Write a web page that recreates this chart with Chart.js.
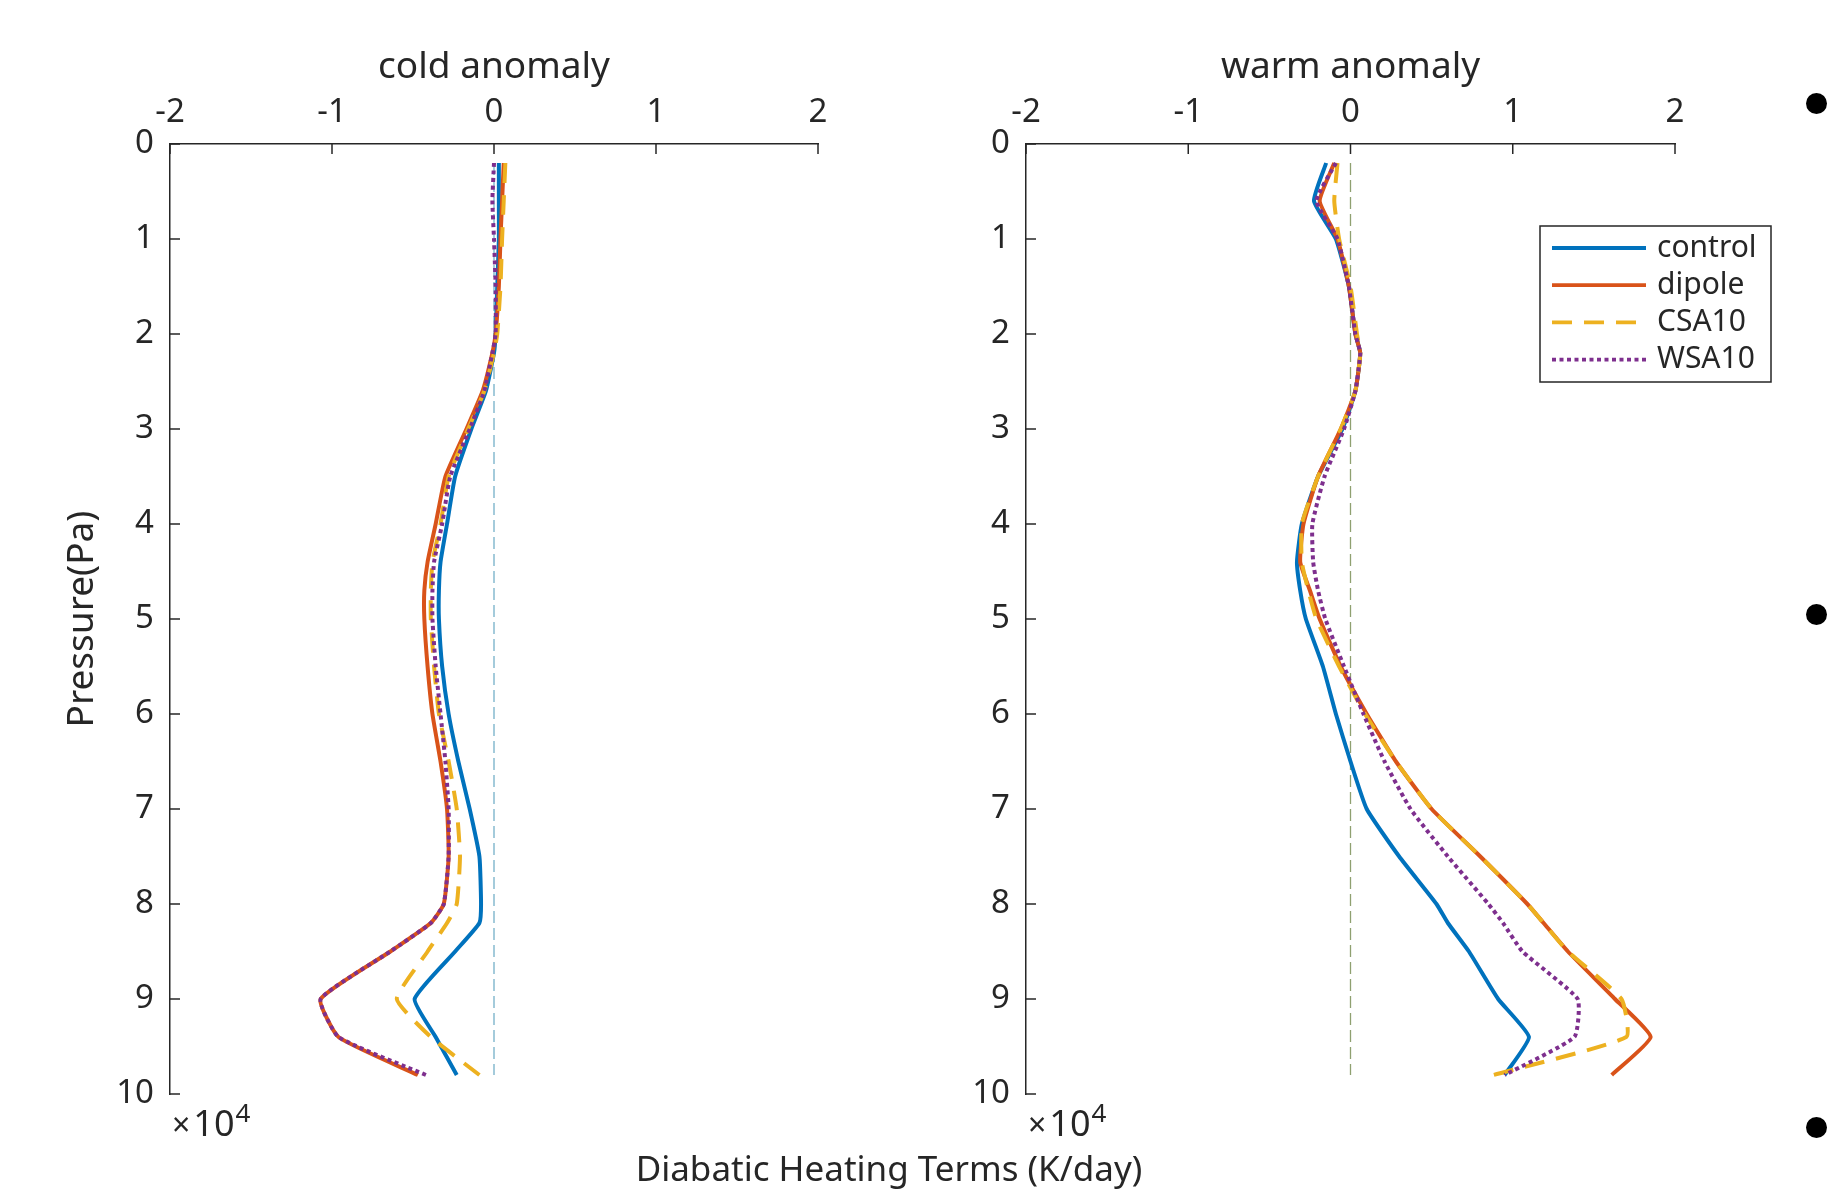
<!DOCTYPE html>
<html>
<head>
<meta charset="utf-8">
<script src="https://cdn.jsdelivr.net/npm/chart.js@4.4.0/dist/chart.umd.min.js"></script>
<style>
  body { margin: 0; background: #fff; width: 1837px; height: 1190px; overflow: hidden; position: relative; font-family: "Noto Sans", sans-serif; }
  .pane { position: absolute; top: 0; }
  #coldPane { left: 0; }
  #warmPane { left: 900px; }
  #xlabel { position: absolute; left: 489px; width: 800px; top: 1146px; text-align: center; font-size: 35px; line-height: 44px; color: #262626; }
  .dot { position: absolute; width: 21px; height: 21px; border-radius: 50%; background: #000; }
</style>
</head>
<body>
<div class="pane" id="coldPane"><canvas id="cold" width="900" height="1190"></canvas></div>
<div class="pane" id="warmPane"><canvas id="warm" width="937" height="1190"></canvas></div>
<div id="xlabel">Diabatic Heating Terms (K/day)</div>
<div class="dot" style="left:1806px; top:93px"></div>
<div class="dot" style="left:1806px; top:604px"></div>
<div class="dot" style="left:1806px; top:1117px"></div>
<script>
// pressure levels (Pa)
const pressure = [2000, 6000, 10000, 15000, 20000, 22000, 26000, 30000, 35000, 40000, 44000, 47000,
                  50000, 55000, 60000, 65000, 70000, 75000, 80000, 82000, 85000, 90000, 94000, 98000];
const seriesNames = ['control', 'dipole', 'CSA10', 'WSA10'];

// cold anomaly (K/day)
const coldControl = [0.03, 0.03, 0.03, 0.02, 0.01, 0.0, -0.05, -0.14, -0.24, -0.29, -0.33, -0.34,
                     -0.34, -0.32, -0.28, -0.22, -0.15, -0.09, -0.08, -0.09, -0.24, -0.49, -0.36, -0.23];
const coldDipole  = [0.06, 0.05, 0.04, 0.03, 0.01, -0.01, -0.07, -0.17, -0.30, -0.36, -0.41, -0.43,
                     -0.43, -0.41, -0.38, -0.33, -0.29, -0.28, -0.31, -0.39, -0.64, -1.07, -0.96, -0.47];
const coldCSA10   = [0.07, 0.06, 0.05, 0.04, 0.02, 0.0, -0.06, -0.16, -0.28, -0.33, -0.38, -0.39,
                     -0.39, -0.37, -0.34, -0.28, -0.23, -0.21, -0.23, -0.29, -0.41, -0.60, -0.39, -0.09];
const coldWSA10   = [0.0, -0.01, 0.0, 0.01, 0.01, -0.01, -0.06, -0.15, -0.27, -0.32, -0.37, -0.38,
                     -0.38, -0.36, -0.33, -0.30, -0.28, -0.28, -0.31, -0.39, -0.64, -1.07, -0.96, -0.42];

// warm anomaly (K/day)
const warmControl = [-0.15, -0.225, -0.09, -0.01, 0.03, 0.06, 0.03, -0.05, -0.20, -0.30, -0.33, -0.31,
                     -0.275, -0.17, -0.09, 0.0, 0.10, 0.30, 0.53, 0.60, 0.73, 0.91, 1.10, 0.95];
const warmDipole  = [-0.10, -0.19, -0.08, -0.01, 0.03, 0.06, 0.03, -0.06, -0.20, -0.29, -0.31, -0.25,
                     -0.19, -0.06, 0.10, 0.28, 0.50, 0.80, 1.09, 1.19, 1.34, 1.63, 1.85, 1.61];
const warmCSA10   = [-0.08, -0.10, -0.07, 0.0, 0.04, 0.06, 0.03, -0.06, -0.20, -0.30, -0.30, -0.26,
                     -0.21, -0.07, 0.09, 0.28, 0.50, 0.80, 1.09, 1.19, 1.34, 1.67, 1.70, 0.88];
const warmWSA10   = [-0.09, -0.21, -0.08, -0.01, 0.03, 0.06, 0.03, -0.04, -0.16, -0.235, -0.23, -0.20,
                     -0.155, -0.04, 0.08, 0.21, 0.37, 0.60, 0.85, 0.94, 1.06, 1.40, 1.38, 0.95];

// zero reference line
const zeroLineX = [0, 0];
const zeroLineP = [2000, 98000];

const xTicks = [-2, -1, 0, 1, 2];

const colors = ['#0072BD', '#D95319', '#EDB120', '#7E2F8E'];
const dashes = [[], [], [20, 12], [4, 3.5]];
const axisColor = '#262626';
const FONT = '"Noto Sans", sans-serif';

function toPoints(xs, ps) {
  return xs.map((v, i) => ({ x: v, y: ps[i] }));
}

const axisDecor = {
  id: 'axisDecor',
  afterDraw(chart, args, opts) {
    const { ctx, chartArea: a, scales: { x, y } } = chart;
    ctx.save();
    ctx.strokeStyle = axisColor;
    ctx.lineWidth = 1.5;
    x.ticks.forEach(t => {
      const px = x.getPixelForValue(t.value);
      ctx.beginPath(); ctx.moveTo(px, a.top); ctx.lineTo(px, a.top + 10); ctx.stroke();
    });
    y.ticks.forEach(t => {
      const py = y.getPixelForValue(t.value);
      ctx.beginPath(); ctx.moveTo(a.left, py); ctx.lineTo(a.left + 10, py); ctx.stroke();
    });
    // x10^4 exponent label
    ctx.fillStyle = axisColor;
    ctx.textBaseline = 'alphabetic';
    ctx.font = '32px ' + FONT;
    ctx.fillText('×', a.left + 2, a.bottom + 42);
    let w = ctx.measureText('×').width + 5;
    ctx.font = '36px ' + FONT;
    ctx.fillText('10', a.left + w, a.bottom + 42);
    w += ctx.measureText('10').width;
    ctx.font = '26px ' + FONT;
    ctx.fillText('4', a.left + w + 1, a.bottom + 28);

    if (opts.legend) {
      const bx = 640, by = 226, bw = 231, bh = 156;
      ctx.fillStyle = '#fff';
      ctx.fillRect(bx, by, bw, bh);
      ctx.strokeStyle = axisColor;
      ctx.lineWidth = 1.5;
      ctx.strokeRect(bx, by, bw, bh);
      ctx.font = '30px ' + FONT;
      ctx.textBaseline = 'middle';
      seriesNames.forEach((name, i) => {
        const yy = by + 22 + i * 37.2;
        ctx.strokeStyle = colors[i];
        ctx.lineWidth = 3.8;
        ctx.setLineDash(dashes[i]);
        ctx.beginPath(); ctx.moveTo(bx + 12, yy); ctx.lineTo(bx + 106, yy); ctx.stroke();
        ctx.setLineDash([]);
        ctx.fillStyle = axisColor;
        ctx.fillText(name, bx + 117, yy);
      });
    }
    ctx.restore();
  }
};

function makeChart(id, title, series, zeroColor, yAxisWidth, padRight, withYTitle, withLegend) {
  const datasets = series.map((vals, i) => ({
    label: seriesNames[i],
    data: toPoints(vals, pressure),
    borderColor: colors[i],
    borderWidth: 4,
    borderDash: dashes[i],
    pointRadius: 0,
    showLine: true,
    tension: 0.15,
    order: 4 - i
  }));
  datasets.push({
    label: 'zero',
    data: toPoints(zeroLineX, zeroLineP),
    borderColor: zeroColor,
    borderWidth: 1.3,
    borderDash: [12, 5],
    pointRadius: 0,
    showLine: true,
    order: 10
  });

  return new Chart(document.getElementById(id), {
    type: 'scatter',
    data: { datasets },
    options: {
      responsive: false,
      animation: false,
      events: [],
      layout: { padding: { left: 0, right: padRight, top: 0, bottom: 96 } },
      plugins: {
        legend: { display: false },
        tooltip: { enabled: false },
        axisDecor: { legend: withLegend }
      },
      scales: {
        x: {
          type: 'linear',
          position: 'top',
          min: -2, max: 2,
          afterBuildTicks: s => { s.ticks = xTicks.map(v => ({ value: v })); },
          ticks: { color: axisColor, font: { family: FONT, size: 33 }, padding: 12, maxRotation: 0 },
          grid: { drawOnChartArea: false, drawTicks: false },
          border: { display: true, color: axisColor, width: 1.5 },
          title: { display: true, text: title, color: axisColor, font: { family: FONT, size: 37 }, padding: { top: 45, bottom: 0 } },
          afterFit: s => { s.height = 144; }
        },
        y: {
          type: 'linear',
          reverse: true,
          min: 0, max: 100000,
          ticks: { stepSize: 10000, color: axisColor, font: { family: FONT, size: 33 }, padding: 16, callback: v => v / 10000 },
          grid: { drawOnChartArea: false, drawTicks: false },
          border: { display: true, color: axisColor, width: 1.5 },
          title: { display: withYTitle, text: 'Pressure(Pa)', color: axisColor, font: { family: FONT, size: 37 }, padding: { top: 60, bottom: 0 } },
          afterFit: s => { s.width = yAxisWidth; }
        }
      }
    },
    plugins: [axisDecor]
  });
}

makeChart('cold', 'cold anomaly', [coldControl, coldDipole, coldCSA10, coldWSA10], '#74b0c8', 170, 82, true, false);
makeChart('warm', 'warm anomaly', [warmControl, warmDipole, warmCSA10, warmWSA10], '#8fa070', 126, 162, false, true);
</script>
</body>
</html>
